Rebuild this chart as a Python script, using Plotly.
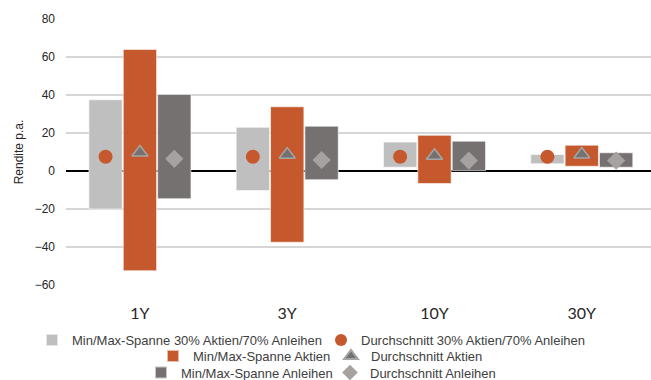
import plotly.graph_objects as go

# Anlagehorizonte
categories = ["1Y", "3Y", "10Y", "30Y"]

# Min/Max-Spannen der Renditen p.a. (in %)
mix_min = [-20.0, -10.3, 2.0, 3.8]
mix_max = [37.5, 23.0, 15.2, 8.7]
stock_min = [-52.5, -37.5, -6.6, 2.5]
stock_max = [64.0, 33.8, 18.8, 13.6]
bond_min = [-14.6, -4.6, 0.2, 2.0]
bond_max = [40.3, 23.6, 15.7, 9.6]

# Durchschnittsrenditen p.a. (in %)
mix_avg = [7.5, 7.5, 7.5, 7.5]
stock_avg = [9.7, 8.6, 8.0, 8.7]
bond_avg = [6.4, 5.8, 5.5, 5.5]

y_ticks = [-60, -40, -20, 0, 20, 40, 60, 80]

LIGHT = "#BFBFBF"
ORANGE = "#C5592D"
DARK = "#767171"
DIAMOND = "#A5A29F"

fig = go.Figure()


def span_bar(lo, hi, name, color, legend):
    return go.Bar(
        x=categories,
        base=lo,
        y=[h - l for l, h in zip(lo, hi)],
        name=name,
        marker=dict(color=color, line=dict(color="rgba(255,255,255,0.6)", width=1)),
        legend=legend,
        hoverinfo="skip",
    )


fig.add_trace(span_bar(mix_min, mix_max, "Min/Max-Spanne 30% Aktien/70% Anleihen", LIGHT, "legend"))
fig.add_trace(span_bar(stock_min, stock_max, "Min/Max-Spanne Aktien", ORANGE, "legend2"))
fig.add_trace(span_bar(bond_min, bond_max, "Min/Max-Spanne Anleihen", DARK, "legend3"))

fig.add_trace(go.Scatter(
    x=categories, y=mix_avg, mode="markers",
    name="Durchschnitt 30% Aktien/70% Anleihen",
    marker=dict(symbol="circle", size=14, color=ORANGE),
    legend="legend",
))
fig.add_trace(go.Scatter(
    x=categories, y=stock_avg, mode="markers",
    name="Durchschnitt Aktien",
    marker=dict(symbol="triangle-up", size=14, color=DARK,
                line=dict(color="#A5A5A5", width=1.5)),
    legend="legend2",
))
fig.add_trace(go.Scatter(
    x=categories, y=bond_avg, mode="markers",
    name="Durchschnitt Anleihen",
    marker=dict(symbol="diamond", size=14, color=DIAMOND),
    legend="legend3",
))

legend_font = dict(family="Liberation Sans, Arial, sans-serif", size=13, color="#404040")
legend_common = dict(orientation="h", xref="container", yref="container",
                     xanchor="left", yanchor="middle",
                     font=legend_font, bgcolor="rgba(0,0,0,0)", traceorder="normal",
                     itemwidth=30, itemsizing="constant", entrywidthmode="pixels")

fig.update_layout(
    width=651, height=380,
    margin=dict(l=66, r=0, t=19, b=94.5, pad=0),
    paper_bgcolor="white", plot_bgcolor="white",
    barmode="group", bargap=0.3, bargroupgap=0.03,
    scattermode="group", scattergap=0.3,
    showlegend=True,
    legend=dict(**legend_common, x=32 / 651, y=1 - 340 / 380, entrywidth=244),
    legend2=dict(**legend_common, x=153 / 651, y=1 - 356 / 380, entrywidth=133),
    legend3=dict(**legend_common, x=141 / 651, y=1 - 372.5 / 380, entrywidth=144),
    xaxis=dict(
        type="category", range=[-0.502, 3.47],
        showgrid=False, showline=False, ticks="",
        ticklabelstandoff=17,
        tickfont=dict(family="Lato, sans-serif", size=16, color="#262626"),
    ),
    yaxis=dict(
        range=[-60, 80], tickvals=y_ticks,
        showgrid=True, gridcolor="#D6D6D6", gridwidth=1.5,
        zeroline=True, zerolinecolor="#000000", zerolinewidth=2,
        showline=False, ticks="",
        ticklabelstandoff=10,
        tickfont=dict(family="Liberation Sans, Arial, sans-serif", size=12, color="#262626"),
        title=dict(text="Rendite p.a.", standoff=8,
                   font=dict(family="Liberation Sans, Arial, sans-serif", size=12, color="#262626")),
    ),
)

fig.write_html("out.html")
